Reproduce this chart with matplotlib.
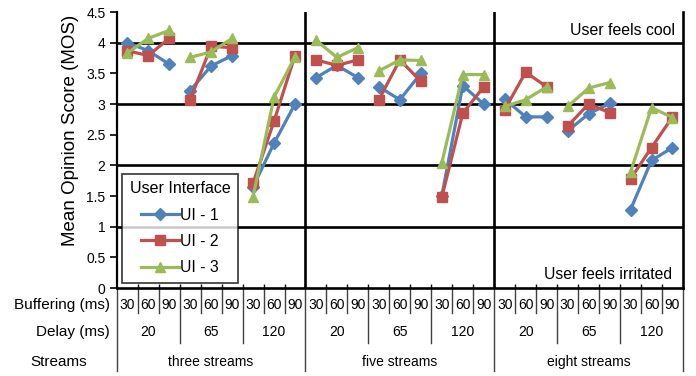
import numpy as np
import matplotlib
matplotlib.use("Agg")
import matplotlib.pyplot as plt
import matplotlib.transforms as mtransforms
from matplotlib.lines import Line2D

plt.rcParams['font.family'] = ['Liberation Sans', 'DejaVu Sans']

# categorías del eje x
buffering = ["30", "60", "90"]
delays = ["20", "65", "120"]
streams = ["three streams", "five streams", "eight streams"]

# MOS por grupo (stream, delay) -> [30, 60, 90] ms de buffering
ui1 = [
    [4.00, 3.87, 3.65], [3.22, 3.62, 3.79], [1.65, 2.36, 3.00],
    [3.43, 3.63, 3.43], [3.28, 3.07, 3.50], [1.50, 3.30, 3.00],
    [3.08, 2.79, 2.79], [2.56, 2.84, 3.01], [1.28, 2.08, 2.29],
]
ui2 = [
    [3.87, 3.79, 4.07], [3.07, 3.94, 3.92], [1.71, 2.72, 3.79],
    [3.72, 3.63, 3.72], [3.07, 3.72, 3.37], [1.48, 2.85, 3.28],
    [2.91, 3.52, 3.28], [2.64, 3.00, 2.86], [1.78, 2.29, 2.79],
]
ui3 = [
    [3.83, 4.07, 4.20], [3.76, 3.85, 4.07], [1.49, 3.11, 3.77],
    [4.04, 3.76, 3.92], [3.54, 3.72, 3.71], [2.04, 3.48, 3.48],
    [2.96, 3.07, 3.28], [2.96, 3.26, 3.35], [1.89, 2.94, 2.78],
]

series = [
    ("UI - 1", ui1, "#4F81BD", "D", 6.0),
    ("UI - 2", ui2, "#C0504D", "s", 6.5),
    ("UI - 3", ui3, "#9BBB59", "^", 7.5),
]

n_cat = len(streams) * len(delays) * len(buffering)

fig = plt.figure(figsize=(6.96, 3.76), dpi=100)
ax = fig.add_axes([0.1677, 0.2340, 0.8136, 0.7340])

# rejilla gruesa cada 1 punto
for yv in [1, 2, 3, 4]:
    ax.axhline(yv, color="black", lw=1.9, zorder=1)
for xv in [8.5, 17.5]:
    ax.axvline(xv, color="black", lw=1.9, zorder=1)

for nombre, datos, color, marcador, ms in series:
    for g, vals in enumerate(datos):
        x = np.arange(3) + 3 * g
        ax.plot(x, vals, color=color, lw=2.3, marker=marcador, ms=ms,
                zorder=3, label=nombre if g == 0 else None)

ax.set_xlim(-0.5, n_cat - 0.5)
ax.set_ylim(0, 4.5)
ax.set_yticks(np.arange(0, 4.51, 0.5))
ax.set_yticklabels(["0", "0.5", "1", "1.5", "2", "2.5", "3", "3.5", "4", "4.5"])
ax.tick_params(axis="y", direction="out", length=5, width=1.2, labelsize=10, pad=3)
ax.set_xticks(np.arange(0.5, n_cat - 1, 1.0))
ax.set_xticklabels([])
ax.tick_params(axis="x", direction="in", length=3, width=1.0)

ax.spines["top"].set_visible(False)
ax.spines["left"].set_linewidth(1.6)
ax.spines["bottom"].set_linewidth(1.9)
ax.spines["right"].set_linewidth(1.9)

ax.set_ylabel("Mean Opinion Score (MOS)", fontsize=13.5)
ax.yaxis.set_label_coords(-0.067, 0.572)

ax.text(0.986, 0.96, "User feels cool", transform=ax.transAxes,
        ha="right", va="top", fontsize=11.4)
ax.text(0.98, 0.023, "User feels irritated", transform=ax.transAxes,
        ha="right", va="bottom", fontsize=11.3)

leg = ax.legend(title="User Interface", loc="lower left",
                bbox_to_anchor=(0.009, 0.018), borderaxespad=0,
                fontsize=11.3, title_fontsize=11.5, frameon=True, fancybox=False,
                edgecolor="black", handlelength=2.4, labelspacing=0.72,
                handletextpad=0.1, borderpad=0.5)
leg.get_frame().set_linewidth(1.2)
leg._legend_box.sep = 8
leg.set_zorder(5)

# tabla de categorías debajo del eje
trans = mtransforms.blended_transform_factory(ax.transData, fig.transFigure)
y_top = 1 - 288 / 376
y_buf = 1 - 305 / 376
y_del = 1 - 332 / 376
y_str = 1 - 362 / 376
y_buf_end = 1 - 313 / 376
y_del_end = 1 - 343 / 376
y_str_end = 1 - 371 / 376

for i in range(n_cat):
    ax.text(i, y_buf, buffering[i % 3], transform=trans, ha="center",
            va="center", fontsize=10)
for j in range(len(streams) * len(delays)):
    ax.text(3 * j + 1, y_del, delays[j % 3], transform=trans, ha="center",
            va="center", fontsize=10)
for k, s in enumerate(streams):
    ax.text(9 * k + 4, y_str, s, transform=trans, ha="center",
            va="center", fontsize=10)

for b in range(n_cat + 1):
    xb = b - 0.5
    if b % 9 == 0:
        y_end = y_str_end
    elif b % 3 == 0:
        y_end = y_del_end
    else:
        y_end = y_buf_end
    ax.add_line(Line2D([xb, xb], [y_top, y_end], transform=trans,
                       color="#404040", lw=1.0, clip_on=False))

fig.text(110 / 696, y_buf, "Buffering (ms)", ha="right", va="center", fontsize=11)
fig.text(110 / 696, y_del, "Delay (ms)", ha="right", va="center", fontsize=11)
fig.text(30 / 696, y_str, "Streams", ha="left", va="center", fontsize=11)

fig.savefig("out.png", dpi=100)
